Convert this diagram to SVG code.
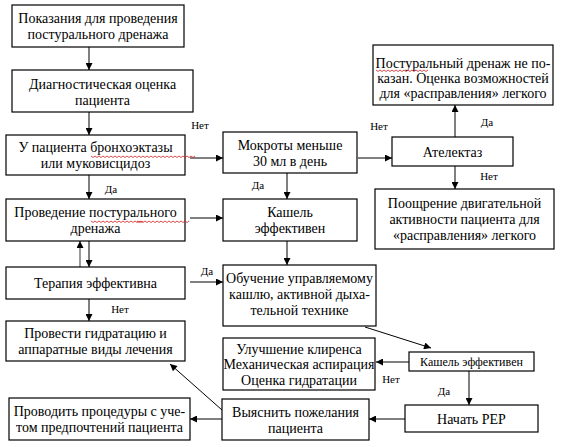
<svg xmlns="http://www.w3.org/2000/svg" width="562" height="447" viewBox="0 0 562 447">
<defs>
<marker id="ah" viewBox="0 0 10 10" refX="10" refY="5" markerWidth="8" markerHeight="7" markerUnits="userSpaceOnUse" orient="auto"><path d="M0,0 L10,5 L0,10 z" fill="#000"/></marker>
<path id="sq" d="M0,0 l2,1.5 l2,-1.5 l2,1.5 l2,-1.5 l2,1.5 l2,-1.5 l2,1.5 l2,-1.5 l2,1.5 l2,-1.5 l2,1.5 l2,-1.5 l2,1.5 l2,-1.5 l2,1.5 l2,-1.5 l2,1.5 l2,-1.5 l2,1.5 l2,-1.5 l2,1.5 l2,-1.5 l2,1.5 l2,-1.5 l2,1.5 l2,-1.5" fill="none" stroke="#d02020" stroke-width="0.8"/>
</defs>
<rect width="562" height="447" fill="#fff"/>

<g id="connectors" stroke="#000" stroke-width="1" fill="none" marker-end="url(#ah)">
<line x1="89" y1="47" x2="89" y2="70"/>
<line x1="89" y1="112" x2="89" y2="135"/>
<line x1="190" y1="158" x2="223" y2="158"/>
<line x1="358" y1="158" x2="392" y2="158"/>
<line x1="455" y1="137" x2="455" y2="105"/>
<line x1="455" y1="166" x2="455" y2="189"/>
<line x1="89" y1="175" x2="89" y2="199"/>
<line x1="287" y1="173" x2="287" y2="199"/>
<line x1="190" y1="218" x2="223" y2="218"/>
<line x1="287" y1="241" x2="287" y2="265"/>
<line x1="89" y1="241" x2="89" y2="267"/>
<line x1="80" y1="267" x2="80" y2="241" stroke="#808080" stroke-width="1.6"/>
<line x1="190" y1="282" x2="223" y2="282"/>
<line x1="89" y1="299" x2="89" y2="321"/>
<line x1="365" y1="327" x2="431" y2="348"/>
<line x1="409" y1="362" x2="376" y2="362"/>
<line x1="469" y1="371" x2="469" y2="405"/>
<line x1="405" y1="419" x2="369" y2="419"/>
<line x1="222" y1="419" x2="190" y2="419"/>
<line x1="222" y1="410" x2="170" y2="364"/>
</g>
<g id="labels" font-family="Liberation Serif, serif" font-size="11" text-anchor="middle" fill="#000">
<text x="200" y="129">Нет</text>
<text x="379" y="130">Нет</text>
<text x="487" y="126">Да</text>
<text x="489" y="180">Нет</text>
<text x="111" y="193">Да</text>
<text x="258" y="189">Да</text>
<text x="207" y="275">Да</text>
<text x="120" y="313">Нет</text>
<text x="391" y="383">Нет</text>
<text x="444" y="395">Да</text>
</g>

<g id="nodes" font-family="Liberation Serif, serif" font-size="14" text-anchor="middle">
<g id="nA"><rect x="12" y="5" width="172" height="42" fill="#fff" stroke="#000" stroke-width="1.2"/>
<text x="98" y="23">Показания для проведения</text>
<text x="98" y="39">постурального дренажа</text></g>

<g id="nB"><rect x="12" y="70" width="181" height="42" fill="#fff" stroke="#000" stroke-width="1.2"/>
<text x="102.5" y="89">Диагностическая оценка</text>
<text x="102.5" y="105">пациента</text></g>

<g id="nC"><rect x="6" y="135" width="179" height="40" fill="#fff" stroke="#000" stroke-width="1.2"/>
<text x="95.5" y="152">У пациента бронхоэктазы</text>
<text x="95.5" y="168">или муковисцидоз</text>
<use href="#sq" x="91" y="156"/><use href="#sq" x="143" y="156"/></g>

<g id="nD"><rect x="223" y="132" width="134" height="41" fill="#fff" stroke="#000" stroke-width="1.2"/>
<text x="290" y="150">Мокроты меньше</text>
<text x="290" y="166">30 мл в день</text></g>

<g id="nE"><rect x="392" y="137" width="121" height="29" fill="#fff" stroke="#000" stroke-width="1.2"/>
<text x="452.5" y="157">Ателектаз</text></g>

<g id="nF"><rect x="373" y="45" width="180" height="60" fill="#fff" stroke="#000" stroke-width="1.2"/>
<text x="463" y="68">Постуральный дренаж не по-</text>
<text x="463" y="83">казан. Оценка возможностей</text>
<text x="463" y="98">для «расправления» легкого</text>
<use href="#sq" x="376" y="70"/></g>

<g id="nG"><rect x="375" y="189" width="179" height="60" fill="#fff" stroke="#000" stroke-width="1.2"/>
<text x="464.5" y="208">Поощрение двигательной</text>
<text x="464.5" y="224">активности пациента для</text>
<text x="464.5" y="240">«расправления» легкого</text></g>

<g id="nH"><rect x="6" y="199" width="179" height="42" fill="#fff" stroke="#000" stroke-width="1.2"/>
<text x="95.5" y="217">Проведение постурального</text>
<text x="95.5" y="233">дренажа</text>
<use href="#sq" x="91" y="221"/><use href="#sq" x="137" y="221"/></g>

<g id="nI"><rect x="223" y="199" width="134" height="42" fill="#fff" stroke="#000" stroke-width="1.2"/>
<text x="290" y="217">Кашель</text>
<text x="290" y="233">эффективен</text></g>

<g id="nJ"><rect x="6" y="267" width="179" height="32" fill="#fff" stroke="#000" stroke-width="1.2"/>
<text x="95.5" y="288">Терапия эффективна</text></g>

<g id="nK"><rect x="223" y="265" width="153" height="61" fill="#fff" stroke="#000" stroke-width="1.2"/>
<text x="299.5" y="283">Обучение управляемому</text>
<text x="299.5" y="299">кашлю, активной дыха-</text>
<text x="299.5" y="315">тельной технике</text></g>

<g id="nL"><rect x="6" y="321" width="179" height="40" fill="#fff" stroke="#000" stroke-width="1.2"/>
<text x="95.5" y="338">Провести гидратацию и</text>
<text x="95.5" y="354">аппаратные виды лечения</text></g>

<g id="nM"><rect x="223" y="338" width="152" height="52" fill="#fff" stroke="#000" stroke-width="1.2"/>
<text x="299" y="354">Улучшение клиренса</text>
<text x="299" y="369">Механическая аспирация</text>
<text x="299" y="385">Оценка гидратации</text></g>

<g id="nN"><rect x="409" y="352" width="125" height="19" fill="#fff" stroke="#000" stroke-width="1.2"/>
<text x="471.5" y="366" font-size="12">Кашель эффективен</text></g>

<g id="nO"><rect x="405" y="405" width="133" height="27" fill="#fff" stroke="#000" stroke-width="1.2"/>
<text x="471.5" y="424">Начать PEP</text></g>

<g id="nP"><rect x="222" y="399" width="147" height="41" fill="#fff" stroke="#000" stroke-width="1.2"/>
<text x="295.5" y="417">Выяснить пожелания</text>
<text x="295.5" y="433">пациента</text></g>

<g id="nQ"><rect x="9" y="398" width="181" height="42" fill="#fff" stroke="#000" stroke-width="1.2"/>
<text x="99.5" y="416">Проводить процедуры с уче-</text>
<text x="99.5" y="432">том предпочтений пациента</text></g>
</g>
</svg>
